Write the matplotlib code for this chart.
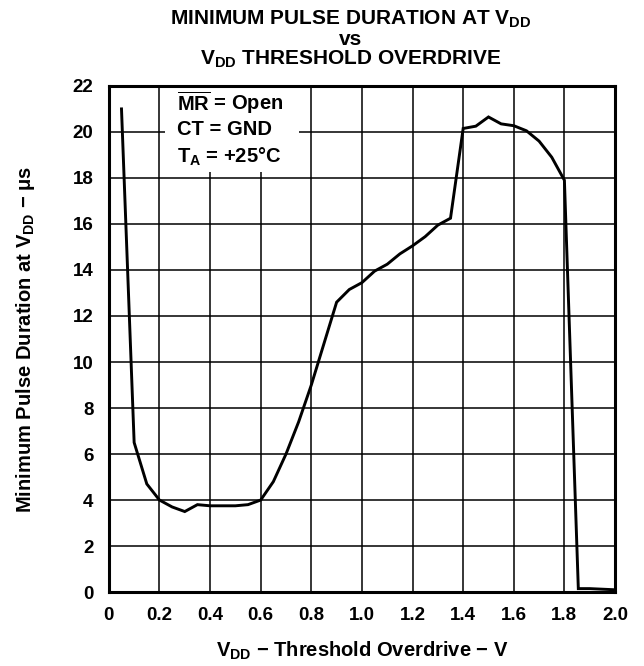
import matplotlib
matplotlib.use("Agg")
import matplotlib.pyplot as plt
from matplotlib.patches import Rectangle

plt.rcParams.update({
    'font.family': ['Liberation Sans', 'DejaVu Sans'],
    'font.weight': 'bold',
    'axes.labelweight': 'bold',
    'mathtext.fontset': 'custom',
    'mathtext.rm': 'Liberation Sans:bold',
    'mathtext.bf': 'Liberation Sans:bold',
    'mathtext.it': 'Liberation Sans:bold',
    'mathtext.sf': 'Liberation Sans:bold',
})

# ── Data ──────────────────────────────────────────────────────────
OVERDRIVE = [0.05, 0.10, 0.15, 0.20, 0.25, 0.30, 0.35, 0.40, 0.45, 0.50,
             0.55, 0.60, 0.65, 0.70, 0.75, 0.80, 0.85, 0.90, 0.95, 1.00,
             1.05, 1.10, 1.15, 1.20, 1.25, 1.30, 1.35, 1.40, 1.45, 1.50,
             1.55, 1.60, 1.65, 1.70, 1.75, 1.80, 1.855, 1.90, 2.00]
PULSE_US = [21.0, 6.5, 4.7, 4.0, 3.7, 3.5, 3.8, 3.75, 3.75, 3.75,
            3.8, 4.0, 4.8, 6.0, 7.4, 9.0, 10.8, 12.6, 13.15, 13.45,
            13.95, 14.25, 14.7, 15.05, 15.45, 15.95, 16.25, 20.15, 20.25, 20.65,
            20.35, 20.27, 20.05, 19.6, 18.9, 17.9, 0.15, 0.15, 0.1]

XTICKS = [0, 0.2, 0.4, 0.6, 0.8, 1.0, 1.2, 1.4, 1.6, 1.8, 2.0]
XTICK_LABELS = ["0", "0.2", "0.4", "0.6", "0.8", "1.0", "1.2", "1.4", "1.6", "1.8", "2.0"]
YTICKS = list(range(0, 23, 2))

# ── Figure ────────────────────────────────────────────────────────
fig = plt.figure(figsize=(6.44, 6.66), dpi=100)
ax = fig.add_axes([0.169, 0.111, 0.786, 0.760])

ax.plot(OVERDRIVE, PULSE_US, color="black", linewidth=2.1, zorder=4,
        solid_joinstyle="miter")

ax.set_xlim(0, 2.0)
ax.set_ylim(0, 22)
ax.set_xticks(XTICKS)
ax.set_xticklabels(XTICK_LABELS, fontweight="bold")
ax.set_yticks(YTICKS)
ax.set_yticklabels([str(v) for v in YTICKS], fontweight="bold")
ax.tick_params(axis="both", length=0, labelsize=13.5)
ax.tick_params(axis="x", pad=11)
ax.tick_params(axis="y", pad=11)
ax.grid(True, color="black", linewidth=1.1)
ax.set_axisbelow(True)
for s in ax.spines.values():
    s.set_linewidth(2.2)
    s.set_zorder(5)

# white legend box over the grid
ax.add_patch(Rectangle((0.22, 18.25), 0.53, 3.75, facecolor="white",
                       edgecolor="none", zorder=2))
ax.text(0.27, 21.3, r"$\overline{\rm MR}$ = Open", fontsize=14.5,
        fontweight="bold", va="center", ha="left", zorder=3)
ax.text(0.27, 20.1, "CT = GND", fontsize=14.5, fontweight="bold",
        va="center", ha="left", zorder=3)
ax.text(0.27, 18.9, r"T$_{\rm A}$ = +25°C", fontsize=14.5, fontweight="bold",
        va="center", ha="left", zorder=3)

ax.set_xlabel(r"V$_{\rm DD}$ $-$ Threshold Overdrive $-$ V", fontsize=14.5,
              fontweight="bold")
ax.set_ylabel(r"Minimum Pulse Duration at V$_{\rm DD}$ $-$ $\mu$s", fontsize=14.5,
              fontweight="bold")
ax.xaxis.set_label_coords(0.5, -0.095)
ax.yaxis.set_label_coords(-0.142, 0.5)

TITLE_LINES = [r"MINIMUM PULSE DURATION AT V$_{\rm DD}$", "vs",
               r"V$_{\rm DD}$ THRESHOLD OVERDRIVE"]
for line, yb in zip(TITLE_LINES, [0.9625, 0.9324, 0.9024]):
    fig.text(0.545, yb, line, fontsize=15, fontweight="bold",
             ha="center", va="baseline")

fig.savefig("out.png", dpi=100)
